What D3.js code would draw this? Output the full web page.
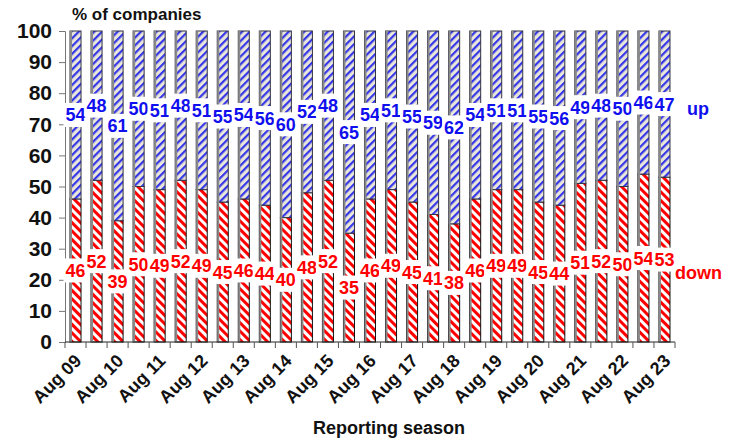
<!DOCTYPE html>
<html><head><meta charset="utf-8">
<script src="https://cdn.jsdelivr.net/npm/d3@7"></script>
<style>body{margin:0;background:#fff}svg{display:block;font-family:"Liberation Sans",Arial,sans-serif;font-weight:bold}</style>
</head><body><svg id="c" width="735" height="443"></svg>
<script>
const categories = ["Aug 09","Feb 10","Aug 10","Feb 11","Aug 11","Feb 12","Aug 12","Feb 13","Aug 13","Feb 14","Aug 14","Feb 15","Aug 15","Feb 16","Aug 16","Feb 17","Aug 17","Feb 18","Aug 18","Feb 19","Aug 19","Feb 20","Aug 20","Feb 21","Aug 21","Feb 22","Aug 22","Feb 23","Aug 23"];
const downValues = [46,52,39,50,49,52,49,45,46,44,40,48,52,35,46,49,45,41,38,46,49,49,45,44,51,52,50,54,53];
const upValues   = [54,48,61,50,51,48,51,55,54,56,60,52,48,65,54,51,55,59,62,54,51,51,55,56,49,48,50,46,47];
const tickLabels = ["Aug 09","Aug 10","Aug 11","Aug 12","Aug 13","Aug 14","Aug 15","Aug 16","Aug 17","Aug 18","Aug 19","Aug 20","Aug 21","Aug 22","Aug 23"];
const yTicks = [0,10,20,30,40,50,60,70,80,90,100];

const svg = d3.select("#c");
const x = d3.scaleBand().domain(categories).range([65,675]).paddingInner(0.476).paddingOuter(0.238);
const y = d3.scaleLinear().domain([0,100]).range([342,31]);

const defs = svg.append("defs");
const pu = defs.append("pattern").attr("id","pu").attr("patternUnits","userSpaceOnUse").attr("width",5.5).attr("height",5.5).attr("patternTransform","rotate(45)");
pu.append("rect").attr("width",5.5).attr("height",5.5).attr("fill","#e9e6da");
pu.append("rect").attr("width",2.2).attr("height",5.5).attr("fill","#3434e8");
const pd = defs.append("pattern").attr("id","pd").attr("patternUnits","userSpaceOnUse").attr("width",6).attr("height",6).attr("patternTransform","rotate(-45)");
pd.append("rect").attr("width",6).attr("height",6).attr("fill","#fff");
pd.append("rect").attr("width",3).attr("height",6).attr("fill","#ff0000");

const rows = categories.map((c,i)=>({c, down:downValues[i], up:upValues[i]}));

// bars
const g = svg.append("g");
rows.forEach(d=>{
  const x0 = x(d.c), w = x.bandwidth();
  g.append("rect").attr("x",x0).attr("y",y(d.down)).attr("width",w).attr("height",y(0)-y(d.down))
    .attr("fill","url(#pd)").attr("stroke","#111").attr("stroke-width",1);
  g.append("rect").attr("x",x0).attr("y",y(d.down+d.up)).attr("width",w).attr("height",y(d.down)-y(d.down+d.up))
    .attr("fill","url(#pu)").attr("stroke","#334").attr("stroke-width",1);
  g.append("rect").attr("x",x0).attr("y",y(d.down+d.up)).attr("width",2).attr("height",y(0)-y(d.down+d.up)).attr("fill","#8a8a8a");
});

// axes
const ya = svg.append("g").attr("transform","translate(65,0)")
  .call(d3.axisLeft(y).tickValues(yTicks).tickSize(6).tickPadding(7));
ya.select(".domain").attr("stroke","#777");
ya.selectAll(".tick line").attr("stroke","#777");
ya.selectAll("text").attr("font-size",21).attr("font-weight","bold").attr("fill","#111").attr("font-family","Liberation Sans, Arial");

const xa = svg.append("g").attr("transform","translate(0,342)");
xa.append("line").attr("x1",65).attr("x2",675).attr("stroke","#222");
const bounds = categories.map(c=>x(c)-x.step()*x.paddingInner()/2).concat([675]);
xa.selectAll("line.t").data(bounds).join("line").attr("class","t").attr("x1",d=>d).attr("x2",d=>d).attr("y1",0).attr("y2",6).attr("stroke","#555");
xa.selectAll("text").data(tickLabels).join("text")
  .attr("transform",d=>`translate(${x(d)+x.bandwidth()/2+7},${20}) rotate(-45)`)
  .attr("text-anchor","end").attr("font-size",18).attr("fill","#111").text(d=>d);

// labels
function labels(key, color, center){
  const lg = svg.append("g");
  rows.forEach(d=>{
    const cx = x(d.c)+x.bandwidth()/2, cy = y(center(d));
    const t = String(d[key]);
    lg.append("rect").attr("x",cx-12).attr("y",cy-12).attr("width",24).attr("height",24).attr("fill","#fff");
    lg.append("text").attr("x",cx).attr("y",cy).attr("dy","0.36em").attr("text-anchor","middle")
      .attr("font-size",18).attr("fill",color).text(t);
  });
}
labels("down","#ff0000",d=>d.down/2);
labels("up","#1010ee",d=>d.down+d.up/2);

svg.append("text").attr("x",687).attr("y",115).attr("font-size",18).attr("fill","#1010ee").text("up");
svg.append("text").attr("x",675).attr("y",279).attr("font-size",18).attr("fill","#ff0000").text("down");
svg.append("text").attr("x",72).attr("y",20).attr("font-size",17).attr("fill","#111").text("% of companies");
svg.append("text").attr("x",389).attr("y",434).attr("text-anchor","middle").attr("font-size",18).attr("fill","#111").text("Reporting season");
</script></body></html>
